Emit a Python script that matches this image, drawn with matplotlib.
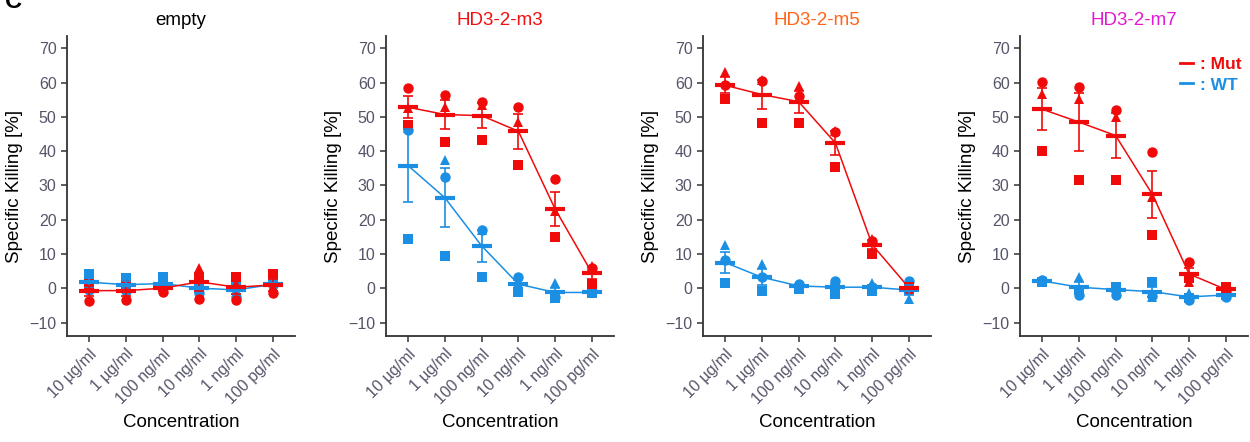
import numpy as np
import matplotlib
matplotlib.use("Agg")
import matplotlib.pyplot as plt
from matplotlib.lines import Line2D

plt.rcParams["font.family"] = ["Liberation Sans", "DejaVu Sans"]

# concentrations (x categories)
concentrations = ["10 µg/ml", "1 µg/ml", "100 ng/ml", "10 ng/ml", "1 ng/ml", "100 pg/ml"]

panel_titles = ["empty", "HD3-2-m3", "HD3-2-m5", "HD3-2-m7"]
title_colors = ["black", "#f01010", "#ff6418", "#e21ad2"]

# replicate values per panel, rows = circle, triangle, square
empty_mut = [[-3.6, -3.5, -1.2, -3.1, -3.4, -1.5],
             [0.3, 0.5, 0.8, 5.8, 1.2, 0.3],
             [1.3, 1.0, 0.5, 3.0, 3.2, 4.2]]
empty_wt = [[-0.5, -0.8, 0.5, -1.5, -2.5, 1.0],
            [1.7, 1.0, 0.5, 1.5, -0.6, 0.5],
            [4.2, 3.0, 3.2, 0.2, 1.7, 2.0]]

m3_mut = [[58.5, 56.5, 54.4, 53.0, 31.9, 5.8],
          [52.5, 52.8, 53.5, 48.6, 22.5, 6.5],
          [47.5, 42.8, 43.2, 35.9, 14.9, 1.2]]
m3_wt = [[46.3, 32.4, 17.0, 3.2, -2.4, -0.9],
         [46.7, 37.4, 17.0, 1.7, 1.5, -1.4],
         [14.4, 9.5, 3.2, -1.2, -2.7, -1.3]]

m5_mut = [[59.3, 60.5, 56.2, 45.7, 13.9, -0.3],
          [63.2, 60.8, 59.0, 46.0, 14.3, 0.5],
          [55.2, 48.3, 48.1, 35.5, 10.0, 0.3]]
m5_wt = [[8.3, 3.4, 1.3, 2.1, 0.3, 2.1],
         [12.6, 7.1, 1.0, 0.5, 1.5, -3.1],
         [1.7, -0.8, -0.2, -1.6, -0.8, -0.5]]

m7_mut = [[60.1, 58.8, 52.0, 39.8, 7.8, -0.8],
          [56.6, 55.1, 50.1, 26.7, 1.8, -0.5],
          [40.1, 31.6, 31.6, 15.7, 2.9, 0.3]]
m7_wt = [[2.4, -1.9, -1.9, -2.3, -3.4, -2.4],
         [2.3, 3.4, 0.5, -2.5, -1.3, -1.6],
         [1.9, -0.5, 0.3, 1.9, -2.8, -1.8]]

mut_data = [empty_mut, m3_mut, m5_mut, m7_mut]
wt_data = [empty_wt, m3_wt, m5_wt, m7_wt]

red = "#f00a0a"
blue = "#1a8fe3"
shapes = ["o", "^", "s"]
sizes = [7.5, 7.5, 7]

fig = plt.figure(figsize=(12.5, 4.42), dpi=100)
lefts = [67, 386, 703, 1020]
x = np.arange(1, len(concentrations) + 1)

for i in range(4):
    ax = fig.add_axes([lefts[i] / 1250, 106 / 442, 228 / 1250, 300 / 442])
    for data, col in [(wt_data[i], blue), (mut_data[i], red)]:
        arr = np.array(data)
        for k in range(3):
            ax.plot(x, arr[k], linestyle="none", marker=shapes[k], color=col,
                    markersize=sizes[k], markeredgewidth=0, zorder=3)
        mean = arr.mean(axis=0)
        sem = arr.std(axis=0, ddof=1) / np.sqrt(3)
        ax.plot(x, mean, color=col, lw=1.1, zorder=2)
        ax.errorbar(x, mean, yerr=sem, fmt="none", ecolor=col, elinewidth=1.2,
                    capsize=3.5, capthick=1.2, zorder=4)
        ax.plot(x, mean, linestyle="none", marker="_", color=col,
                markersize=14, markeredgewidth=3, zorder=5)

    ax.set_xlim(0.4, 6.6)
    ax.set_ylim(-13.9, 73.6)
    ax.set_yticks(range(-10, 71, 10))
    ax.set_xticks(x)
    ax.set_xticklabels(concentrations, rotation=45, ha="right", rotation_mode="anchor")
    for side in ["top", "right"]:
        ax.spines[side].set_visible(False)
    for side in ["left", "bottom"]:
        ax.spines[side].set_color("#333333")
        ax.spines[side].set_linewidth(1.3)
    ax.tick_params(axis="both", colors="#333333", labelcolor="#55556a",
                   labelsize=11.5, length=4, width=1.1)
    ax.set_ylabel("Specific Killing [%]", fontsize=13.5, labelpad=5)
    ax.set_xlabel("Concentration", fontsize=13.5, labelpad=5)
    ax.set_title(panel_titles[i], color=title_colors[i], fontsize=13.5, pad=8)

    if i == 3:
        handles = [Line2D([0], [0], color=red, lw=2),
                   Line2D([0], [0], color=blue, lw=2)]
        leg = ax.legend(handles, [": Mut", ": WT"], loc="upper right",
                        bbox_to_anchor=(0.97, 0.93), frameon=False,
                        handlelength=0.7, handletextpad=0.4, labelspacing=0.3,
                        borderaxespad=0.0, borderpad=0.0,
                        prop={"weight": "bold", "size": 12.5})
        leg.get_texts()[0].set_color(red)
        leg.get_texts()[1].set_color(blue)

fig.text(0.004, 1 - 8 / 442, "C", fontsize=17, fontweight="bold", va="baseline")

fig.savefig("out.png", dpi=100)
